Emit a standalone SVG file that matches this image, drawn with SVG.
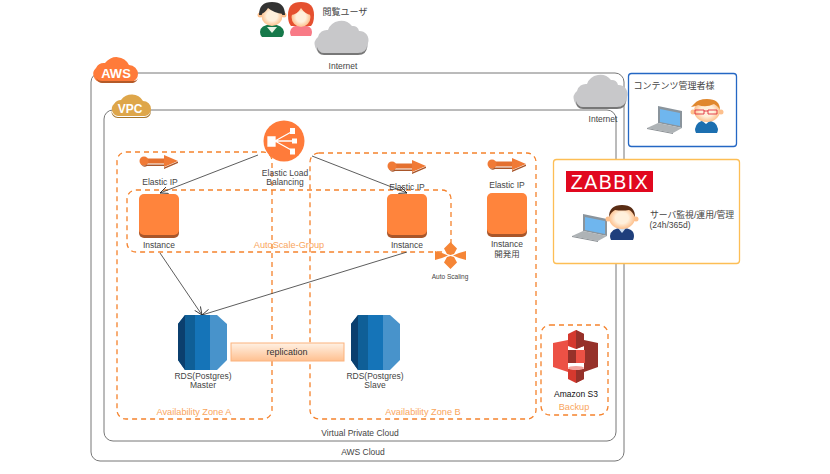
<svg xmlns="http://www.w3.org/2000/svg" width="830" height="474" viewBox="0 0 830 474">
<style>
text{font-family:"Liberation Sans","Noto Sans CJK JP",sans-serif;font-size:8.5px;fill:#444;text-anchor:middle}
.o{font-size:9.200px;fill:#f9a55c}
.z{fill:none;stroke:#f5822c;stroke-width:1.300;stroke-dasharray:5 4}
.b{fill:none;stroke:#777;stroke-width:1}
.c{stroke:#333;stroke-width:.8;fill:none;marker-end:url(#a)}
.i{fill:#ff843c}
.is{fill:#a9562a}
</style>
<defs>
<marker id="a" markerWidth="9" markerHeight="8" refX="8" refY="4" orient="auto" markerUnits="userSpaceOnUse"><path d="M0 .5L8 4L0 7.500" fill="none" stroke="#222" stroke-width=".8"/></marker>
<g id="cl"><path d="M-18 17a9 9 0 0 1-6-16a9 9 0 0 1 10-7a14 14 0 0 1 24-4a6 6 0 0 1 7 5a9 9 0 0 1 9 12a9 9 0 0 1-8 10z" fill="#c8c8ca"/><path d="M-25 11q2 6 7 6h34q8 0 9-7q0 9-9 9h-34q-7 0-7-8z" fill="#777"/></g>
<g id="ip"><rect x="4" y="-2.500" width="23" height="5" fill="#e4702f"/><circle cx="4" cy="0" r="4.500" fill="#f07a36"/><path d="M24-6L38 0L24 6z" fill="#f07a36"/><path d="M1 3.500q3 2 6 0h17v3l14-6v1.500L24 8v-3H7q-3 2-6-1.500z" fill="#a9562a"/></g>
<g id="inst"><rect x="0" y="2" width="40" height="42" rx="5" class="is"/><rect x="0" y="0" width="40" height="41" rx="5" class="i"/></g>
<g id="rds"><path d="M7 0L0 9V45L7 55H17V0z" fill="#0f5f97"/><path d="M7 0L0 9V45L7 55z" fill="#0b3f6e"/><path d="M17 0H32V55H17z" fill="#1574b8"/><path d="M32 0H39L49 9V45L39 55H32z" fill="#4893cb"/></g>
<g id="lap"><path d="M11 0L35 5V22L11 17z" fill="#8a949c"/><path d="M13 3L33 7V20L13 16z" fill="#6fb6ee"/><path d="M11 17L35 22L26 27L0 22z" fill="#aeb3b6"/><path d="M0 22L26 27v1L0 23z" fill="#8a8f93"/></g>
<linearGradient id="rep" x1="0" y1="0" x2="0" y2="1"><stop offset="0" stop-color="#fff1e4"/><stop offset="1" stop-color="#ffc090"/></linearGradient>
<radialGradient id="sk"><stop offset=".5" stop-color="#fff0dc"/><stop offset="1" stop-color="#fdc08d"/></radialGradient>
</defs>

<g id="aws-cloud"><rect x="91" y="73" width="533" height="388" rx="9" class="b"/>
<path d="M101 82a8 8 0 0 1-5-14a9 9 0 0 1 9-5a14 14 0 0 1 24 2a9 9 0 0 1 9 9a8 8 0 0 1-7 8z" fill="#ff7b3a"/><path d="M96 78q2 5 6 5h31q4-1 5-5q-1 3-5 3H102q-4 0-6-3z" fill="#b45a28"/>
<text x="116" y="78" style="font-size:13px;font-weight:bold;fill:#fff">AWS</text>
<text x="363" y="455">AWS Cloud</text></g>
<g id="vpc"><rect x="104" y="110" width="512" height="331" rx="9" class="b"/>
<path d="M118 116a7 7 0 0 1-4-12a9 9 0 0 1 7-4a13 13 0 0 1 22 1a8 8 0 0 1 8 8a7 7 0 0 1-6 7z" fill="#dea64a"/><path d="M111 110q2 7 7 7h26q6 0 7-7v2q-1 6-7 6H118q-6 0-7-8z" fill="#a6762c"/>
<text x="130" y="113" style="font-size:12px;font-weight:bold;fill:#fff">VPC</text>
<text x="360" y="436">Virtual Private Cloud</text></g>

<g id="zones">
<rect x="117" y="152" width="155" height="267" rx="9" class="z"/>
<rect x="310" y="153" width="226" height="266" rx="9" class="z"/>
<rect x="127" y="190" width="324" height="62" rx="9" class="z"/>
<rect x="541" y="325" width="67" height="90" rx="9" class="z"/>
<text x="194" y="415" class="o">Availability Zone A</text>
<text x="423" y="415" class="o">Availability Zone B</text>
<text x="289" y="248" class="o">AutoScale-Group</text>
<text x="574" y="410" class="o">Backup</text>
</g>

<g id="viewers">
<path d="M262 37q-2-2-2-5q0-7 12-8q11 1 12 8q0 3-2 5z" fill="#16794a"/>
<path d="M267 27l5 6l5-6z" fill="#e9f5e6"/>
<circle cx="260" cy="15" r="2.500" fill="#fdc08d"/><circle cx="284" cy="15" r="2.500" fill="#fdc08d"/>
<path d="M259 15q0-13 13-13q13 0 13 13z" fill="#333"/>
<ellipse cx="272" cy="16" rx="10.500" ry="10" fill="url(#sk)"/>
<path d="M261 14q4-1 7-6q6 5 15 6q-2-11-11-11q-10 0-11 11z" fill="#333"/>
<path d="M291 36q-1-2-1-4q1-7 11-7q11 0 11 7q0 2-1 4z" fill="#f87a86"/>
<path d="M288 15q0-13 13-13q13 0 13 13q0 8-3 11h-20q-3-3-3-11z" fill="#e5502f"/>
<ellipse cx="301" cy="17" rx="9.500" ry="10" fill="url(#sk)"/>
<path d="M291 15q6 0 10-7q4 6 10 7q0-10-10-10t-10 10z" fill="#e5502f"/>
<text x="345" y="15" style="font-size:9px">閲覧ユーザ</text></g>
<g id="internet-top"><use href="#cl" x="342" y="36"/><text x="343" y="69">Internet</text></g>
<g id="internet-right"><use href="#cl" x="601" y="90"/><text x="603" y="122">Internet</text></g>

<g id="admin"><rect x="628.500" y="73.500" width="108" height="73" rx="3" fill="#fff" stroke="#2467c4" stroke-width="1.300"/>
<text x="674" y="89" style="font-size:9px">コンテンツ管理者様</text>
<use href="#lap" x="647" y="106"/>
<path d="M696 133q-1-2-1-4q1-8 11-9q11 1 12 9q0 2-1 4z" fill="#1c6fb0"/>
<path d="M701 120l5 4l5-4z" fill="#fff"/>
<circle cx="693" cy="112" r="2.500" fill="#fdc08d"/><circle cx="721" cy="112" r="2.500" fill="#fdc08d"/>
<ellipse cx="707" cy="111" rx="13" ry="11" fill="url(#sk)"/>
<path d="M691 107q6-1 7-2q8 3 16-1q5 3 6 6q0-11-13-11q-9 0-13 5z" fill="#e0882e"/>
<path d="M695 110h9v4h-9zM708 110h9v4h-9zM704 111h4" fill="none" stroke="#e0303c" stroke-width=".9"/></g>

<g id="zabbix"><rect x="553.500" y="159.500" width="186" height="104" rx="3" fill="#fff" stroke="#fdbe55" stroke-width="1.300"/>
<rect x="566" y="171" width="87" height="21" fill="#e1081f"/>
<text x="610" y="188.500" style="font-size:19.500px;fill:#fff;letter-spacing:1.500px">ZABBIX</text>
<use href="#lap" x="572" y="214"/>
<path d="M611 240q-1-2-1-4q1-8 12-8q12 0 12 8q0 2-1 4z" fill="#1f3f7c"/>
<path d="M618 228l4 5l4-5z" fill="#cfe0f2"/>
<circle cx="608" cy="219" r="2.500" fill="#fdc08d"/><circle cx="636" cy="219" r="2.500" fill="#fdc08d"/>
<ellipse cx="622" cy="218" rx="13" ry="11" fill="url(#sk)"/>
<path d="M609 217q0-12 13-12q13 0 13 12q-3-6-6-7q-7 1-14 0q-4 2-6 7z" fill="#5a2d14"/>
<text x="692" y="218" style="font-size:8.800px">サーバ監視/運用/管理</text>
<text x="670" y="228" style="font-size:8.500px">(24h/365d)</text></g>

<g id="connectors">
<path class="c" d="M258 155L160 193"/>
<path class="c" d="M312 156L407 193"/>
<path class="c" d="M160 253L202 315"/>
<path class="c" d="M407 252L202 315"/>
</g>

<g id="elb"><circle cx="284" cy="141" r="20.500" fill="#ff7b3a"/>
<path d="M268 137h7v9h-7zM275 141L293 131M275 141H295M275 141L293 151" stroke="#fff" stroke-width="1.300" fill="#fff"/>
<path d="M290 128h5v6h-5zM292 138.500h5v5h-5zM290 148.500h5v6h-5z" fill="#fff"/>
<text x="285" y="176">Elastic Load</text><text x="285" y="185">Balancing</text></g>

<g id="eip-a"><use href="#ip" x="140" y="161"/><text x="160" y="185">Elastic IP</text></g>
<g id="eip-b"><use href="#ip" x="388" y="166"/><text x="407" y="190">Elastic IP</text></g>
<g id="eip-c"><use href="#ip" x="488" y="164"/><text x="507" y="188">Elastic IP</text></g>

<g id="instance-a"><use href="#inst" x="139" y="194"/><text x="159" y="248">Instance</text></g>
<g id="instance-b"><use href="#inst" x="387" y="194"/><text x="407" y="248">Instance</text></g>
<g id="instance-c"><use href="#inst" x="487" y="193"/><text x="507" y="247">Instance</text><text x="507" y="257">開発用</text></g>

<g id="auto-scaling"><path d="M450.500 242L457 248.500L454 254L450.500 255L447 254L444 248.500zM450.500 269L457 262.500L454 257L450.500 256L447 257L444 262.500zM435 251V260L442 258L448 255.500L442 253zM466 251V260L459 258L453 255.500L459 253z" fill="#f58536"/>
<text x="450" y="279" style="font-size:6.500px">Auto Scaling</text></g>

<g id="rds-master"><use href="#rds" x="178" y="315"/><text x="203" y="379">RDS(Postgres)</text><text x="203" y="388">Master</text></g>
<g id="rds-slave"><use href="#rds" x="351" y="315"/><text x="375" y="379">RDS(Postgres)</text><text x="375" y="388">Slave</text></g>
<g id="replication"><rect x="231" y="343" width="113" height="18" fill="url(#rep)" stroke="#fbb27c"/><text x="287" y="355" style="font-size:9px;fill:#333">replication</text></g>

<g id="s3"><path d="M568 334l8-4l8 4v12l-8 3l-8-3z" fill="#d5392e"/><path d="M576 330l8 4v12l-8 3z" fill="#96312a"/><path d="M553 343l15-3v32l-15-5z" fill="#ec5145"/><path d="M584 340l14 3v24l-14 5z" fill="#96312a"/><path d="M568 350h17v13h-17z" fill="#ec5145"/><path d="M568 350h8v13h-8z" fill="#96312a"/><path d="M568 369q8-4 16 0v10l-8 4l-8-4z" fill="#d5392e"/><path d="M576 383l8-4v-10l-8 0z" fill="#96312a"/><ellipse cx="576" cy="368" rx="8" ry="2" fill="#f2a39d"/>
<text x="576" y="397" style="fill:#111">Amazon S3</text></g>
</svg>
